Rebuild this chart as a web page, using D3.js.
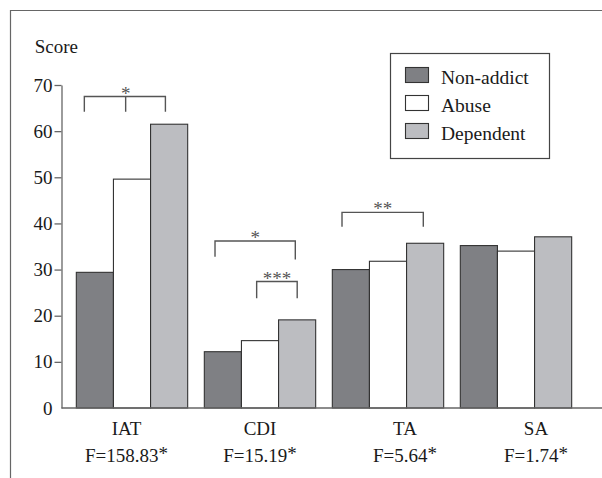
<html>
<head>
  <script src="https://d3js.org/d3.v7.min.js"></script>
  <style>
    body { margin: 0; background: white; }
  </style>
</head>
<body>
  <svg id="chart" width="602" height="478" style="font-family: 'Liberation Serif', 'DejaVu Serif', serif;"></svg>
  <script>
    // data
    const categories = ["IAT", "CDI", "TA", "SA"];
    const fStats = ["F=158.83", "F=15.19", "F=5.64", "F=1.74"];
    const groups = ["Non-addict", "Abuse", "Dependent"];
    const nonAddict = [29.4, 12.2, 30.0, 35.2];
    const abuse = [49.6, 14.6, 31.8, 34.0];
    const dependent = [61.5, 19.1, 35.7, 37.1];
    const yTicks = [0, 10, 20, 30, 40, 50, 60, 70];

    // significance brackets: category, from/to/mid as fraction of group width, top & leg ends in score units
    const brackets = [
      {cat: "IAT", from: 0.072, to: 0.80, mid: 0.443, top: 67.5, legL: 64.2, legR: 64.2, stars: "*"},
      {cat: "CDI", from: 0.096, to: 0.817, mid: null, top: 36.2, legL: 32.8, legR: 32.2, stars: "*"},
      {cat: "CDI", from: 0.47, to: 0.834, mid: null, top: 27.4, legL: 23.8, legR: 23.8, stars: "***"},
      {cat: "TA", from: 0.087, to: 0.817, mid: null, top: 42.4, legL: 39.3, legR: 39.3, stars: "**"}
    ];

    const colors = {"Non-addict": "#7f8084", "Abuse": "#ffffff", "Dependent": "#bcbdc1"};
    const labelShift = [-5.5, 0, 17, 20];  // category labels are not exactly centred in the original
    const serif = "'Liberation Serif', 'DejaVu Serif', serif";

    const svg = d3.select("svg#chart");
    const axisX = 61.5;

    // outer frame (right and bottom run off the picture)
    svg.append("path")
        .attr("d", "M10.5,478 V10.5 H602")
        .style("fill", "none")
        .style("stroke", "#666")
        .style("stroke-width", 1.2);

    let y = d3.scaleLinear().domain([0, 70]).range([408, 85]);
    let x = d3.scaleBand().domain(categories).range([68, 580]).paddingInner(0.13).paddingOuter(0.065);
    let xs = d3.scaleBand().domain(groups).range([0, x.bandwidth()]);

    const table = categories.map((c, i) => ({
      cat: c,
      values: [nonAddict[i], abuse[i], dependent[i]]
    }));

    // bars
    table.forEach(d => {
      groups.forEach((g, j) => {
        svg.append("rect")
            .attr("x", x(d.cat) + xs(g))
            .attr("y", y(d.values[j]))
            .attr("width", xs.bandwidth())
            .attr("height", y(0) - y(d.values[j]))
            .style("fill", colors[g])
            .style("stroke", "#333")
            .style("stroke-width", 1.1);
      });
    });

    // y axis
    let yAxis = svg.append("g")
        .attr("transform", `translate(${axisX},0)`)
        .call(d3.axisLeft(y).tickValues(yTicks).tickSize(7).tickSizeOuter(0).tickPadding(2));
    yAxis.attr("font-family", null).attr("font-size", null);
    yAxis.selectAll("path, line").style("stroke", "#666").style("stroke-width", 1.3);
    yAxis.selectAll("text")
        .style("font-family", serif)
        .style("font-size", "19px")
        .style("fill", "#1a1a1a");
    yAxis.selectAll(".tick").filter(d => d === 0).select("line").remove();

    // x axis line
    svg.append("line")
        .attr("x1", axisX).attr("x2", 602)
        .attr("y1", y(0)).attr("y2", y(0))
        .style("stroke", "#666")
        .style("stroke-width", 1.3);

    function label(sel) {
      return sel.style("font-family", serif).style("fill", "#1a1a1a").style("font-size", "19px");
    }

    label(svg.append("text"))
        .text("Score")
        .attr("x", 34.7).attr("y", 53);

    // category labels
    categories.forEach((c, i) => {
      let cx = x(c) + x.bandwidth() / 2 + labelShift[i];
      label(svg.append("text"))
          .text(c)
          .attr("x", cx).attr("y", 435)
          .style("text-anchor", "middle");
      let t = label(svg.append("text"))
          .attr("x", cx).attr("y", 462)
          .style("text-anchor", "middle");
      t.append("tspan").text(fStats[i]);
      t.append("tspan").text("*").attr("dy", -2);
    });

    // brackets
    brackets.forEach(b => {
      let x0 = x(b.cat) + b.from * x.bandwidth();
      let x1 = x(b.cat) + b.to * x.bandwidth();
      let yt = y(b.top);
      svg.append("path")
          .attr("d", `M${x0},${y(b.legL)} V${yt} H${x1} V${y(b.legR)}`)
          .style("fill", "none")
          .style("stroke", "#555")
          .style("stroke-width", 1.4);
      let sx = (x0 + x1) / 2;
      if (b.mid !== null) {
        sx = x(b.cat) + b.mid * x.bandwidth();
        svg.append("line")
            .attr("x1", sx).attr("x2", sx)
            .attr("y1", yt).attr("y2", y(b.legL))
            .style("stroke", "#555")
            .style("stroke-width", 1.4);
      }
      label(svg.append("text"))
          .text(b.stars)
          .attr("x", sx).attr("y", yt + 3)
          .style("text-anchor", "middle")
          .style("fill", "#555");
    });

    // legend
    let legend = svg.append("g");
    legend.append("rect")
        .attr("x", 390.5).attr("y", 53.5)
        .attr("width", 159).attr("height", 105)
        .style("fill", "white")
        .style("stroke", "#444")
        .style("stroke-width", 1.2);
    groups.forEach((g, i) => {
      legend.append("rect")
          .attr("x", 405.5).attr("y", 67.5 + i * 28)
          .attr("width", 23).attr("height", 15)
          .style("fill", colors[g])
          .style("stroke", "#333")
          .style("stroke-width", 1.1);
      label(legend.append("text"))
          .text(g)
          .attr("x", 441).attr("y", 83.5 + i * 28)
          .style("font-size", "19.5px");
    });
  </script>
</body>
</html>
